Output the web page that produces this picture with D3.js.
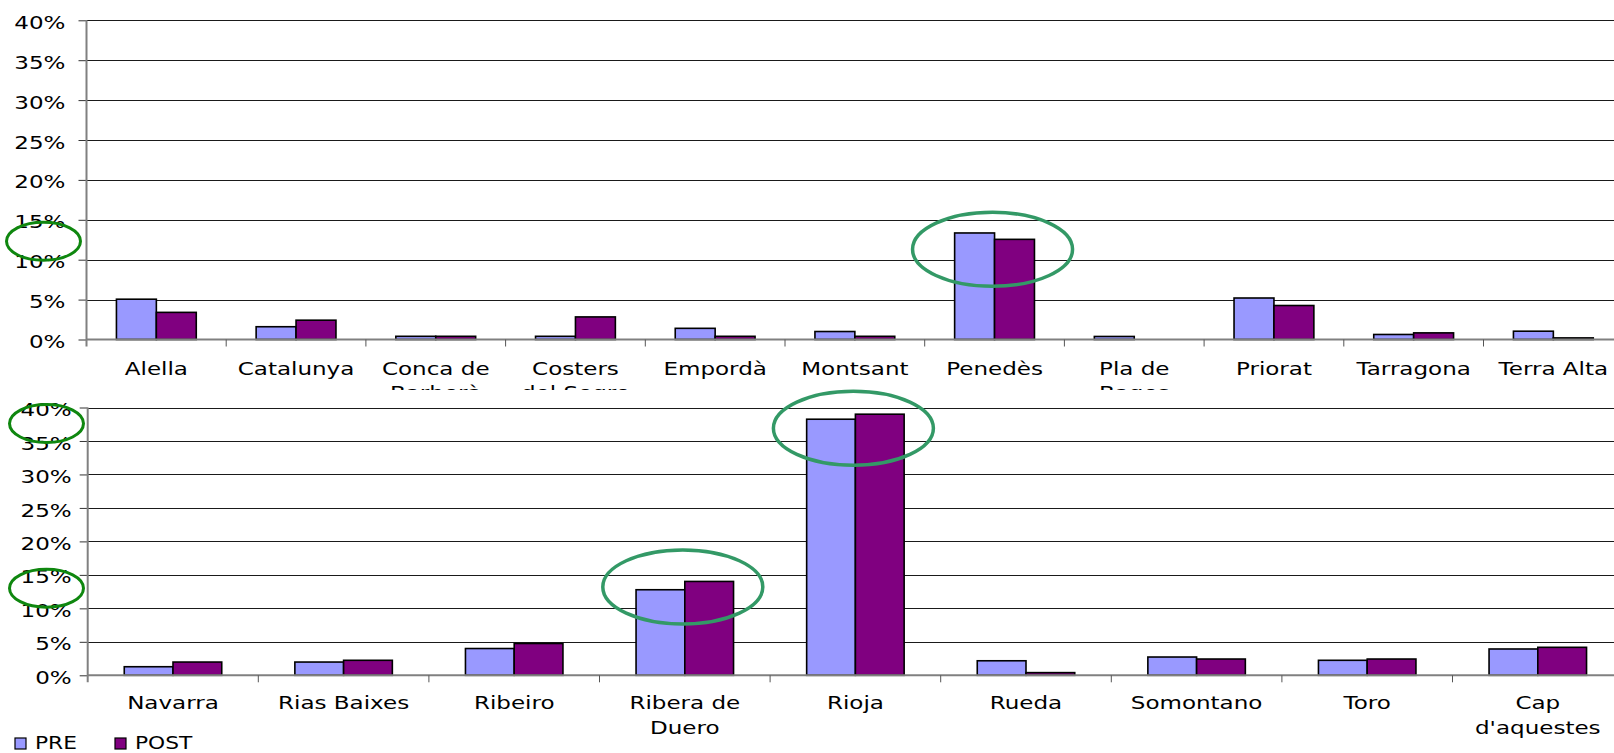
<!DOCTYPE html>
<html>
<head>
<meta charset="utf-8">
<script src="https://cdn.jsdelivr.net/npm/d3@7"></script>
<style>
  body { margin: 0; background: #fff; }
  svg { display: block; }
</style>
</head>
<body>
<script>
// Shares of wine D.O. before (PRE) and after (POST), in percent

const series = ["PRE", "POST"];

const topCats = ["Alella", "Catalunya", "Conca de\nBarberà", "Costers\ndel Segre", "Empordà",
                 "Montsant", "Penedès", "Pla de\nBages", "Priorat", "Tarragona", "Terra Alta"];
const topPre  = [5.05, 1.6, 0.4, 0.4, 1.4, 1.0, 13.35, 0.38, 5.2, 0.63, 1.04];
const topPost = [3.4, 2.42, 0.4, 2.83, 0.4, 0.4, 12.55, 0, 4.26, 0.83, 0.2];

const bottomCats = ["Navarra", "Rias Baixes", "Ribeiro", "Ribera de\nDuero", "Rioja",
                    "Rueda", "Somontano", "Toro", "Cap\nd'aquestes"];
const bottomPre  = [1.28, 1.98, 4.0, 12.78, 38.25, 2.17, 2.73, 2.24, 3.93];
const bottomPost = [1.98, 2.24, 4.75, 14.02, 39.0, 0.4, 2.43, 2.43, 4.18];

const yTicks = [0, 5, 10, 15, 20, 25, 30, 35, 40];

// hand drawn green circles (category + value at centre, and marks on the y axis)
const topCircled = ["Penedès"];
const topCircleAt = [11.3];
const topAxisMarks = [12.3];
const bottomCircled = ["Ribera de\nDuero", "Rioja"];
const bottomCircleAt = [13.2, 36.9];
const bottomAxisMarks = [37.6, 13.0];

const W = 1614, H = 753;
const FONT = "'DejaVu Sans', Verdana, sans-serif";
const STRETCH = 1.28;   // the text in the picture is widened

const svg = d3.select("body").append("svg")
    .attr("width", W)
    .attr("height", H);

svg.append("defs").append("clipPath")
    .attr("id", "clipTop")
    .append("rect")
    .attr("x", 0).attr("y", 0)
    .attr("width", W).attr("height", 390);

const topG = svg.append("g").attr("clip-path", "url(#clipTop)");
const bottomG = svg.append("g");

function drawChart(root, cats, pre, post, box) {
    const x = d3.scaleBand()
        .domain(cats)
        .range([box.left, box.right])
        .padding(0);

    // Excel style: gap of 1.5 bars between groups
    const xs = d3.scaleBand()
        .domain(series)
        .range([0, x.bandwidth()])
        .paddingInner(0)
        .paddingOuter(0.75);

    const y = d3.scaleLinear()
        .domain([0, 40])
        .range([box.bottom, box.top]);

    // gridlines
    root.append("g")
        .selectAll("line")
        .data(yTicks.filter(d => d > 0))
        .join("line")
        .attr("x1", box.left)
        .attr("x2", box.right)
        .attr("y1", d => Math.round(y(d)) + 0.5)
        .attr("y2", d => Math.round(y(d)) + 0.5)
        .attr("stroke", "#1a1a1a")
        .attr("stroke-width", 1);

    // bars
    const rows = cats.map((c, i) => ({cat: c, PRE: pre[i], POST: post[i]}));
    root.append("g")
        .selectAll("g")
        .data(rows)
        .join("g")
        .attr("transform", d => `translate(${x(d.cat)},0)`)
        .selectAll("rect")
        .data(d => series.map(s => ({key: s, value: d[s]})).filter(d => d.value > 0))
        .join("rect")
        .attr("x", d => xs(d.key))
        .attr("y", d => y(d.value))
        .attr("width", xs.bandwidth())
        .attr("height", d => y(0) - y(d.value))
        .attr("fill", d => d.key === "PRE" ? "#9999ff" : "#800080")
        .attr("stroke", "#000")
        .attr("stroke-width", 1.6);

    // y axis
    const ya = root.append("g")
        .attr("transform", `translate(${box.left},0)`)
        .call(d3.axisLeft(y)
            .tickValues(yTicks)
            .tickSize(8)
            .tickFormat(d => d + "%"));
    ya.select(".domain").remove();
    ya.selectAll("line").attr("stroke", "#333");
    ya.selectAll("text")
        .attr("x", null)
        .attr("dy", null)
        .attr("dominant-baseline", "central")
        .attr("transform", `translate(${-box.tickGap},2) scale(${STRETCH},1)`)
        .attr("font-family", FONT)
        .attr("font-size", 18)
        .attr("fill", "#000");

    // axis lines
    root.append("line")
        .attr("x1", box.left).attr("x2", box.left)
        .attr("y1", box.top).attr("y2", box.bottom + 7)
        .attr("stroke", "#808080")
        .attr("stroke-width", 2);
    root.append("line")
        .attr("x1", box.left).attr("x2", box.right)
        .attr("y1", box.bottom).attr("y2", box.bottom)
        .attr("stroke", "#808080")
        .attr("stroke-width", 2);

    // category boundary ticks
    root.append("g")
        .selectAll("line")
        .data(d3.range(1, cats.length + 1))
        .join("line")
        .attr("x1", i => box.left + i * x.step())
        .attr("x2", i => box.left + i * x.step())
        .attr("y1", box.bottom)
        .attr("y2", box.bottom + 7)
        .attr("stroke", "#555")
        .attr("stroke-width", 1);

    // category labels (can wrap on two lines)
    root.append("g")
        .selectAll("text")
        .data(cats)
        .join("text")
        .attr("transform", d => `translate(${x(d) + x.bandwidth() / 2},${box.bottom + box.labelDy}) scale(${STRETCH},1)`)
        .attr("text-anchor", "middle")
        .attr("font-family", FONT)
        .attr("font-size", 18)
        .attr("fill", "#000")
        .selectAll("tspan")
        .data(d => d.split("\n"))
        .join("tspan")
        .attr("x", 0)
        .attr("dy", (d, i) => i === 0 ? 0 : 24.5)
        .text(d => d);

    return {x, y};
}

const topScales = drawChart(topG, topCats, topPre, topPost,
    {left: 86.5, right: 86.5 + 11 * 139.7, top: 20.3, bottom: 339.5, labelDy: 35.5, tickGap: 21});

const bottomScales = drawChart(bottomG, bottomCats, bottomPre, bottomPost,
    {left: 87.7, right: 87.7 + 9 * 170.6, top: 407.5, bottom: 675.3, labelDy: 34, tickGap: 16});

// green ellipses
function circleBars(root, sc, cats, vals) {
    root.append("g")
        .selectAll("ellipse")
        .data(cats.map((c, i) => ({cat: c, v: vals[i]})))
        .join("ellipse")
        .attr("cx", d => sc.x(d.cat) + sc.x.bandwidth() / 2 - 2)
        .attr("cy", d => sc.y(d.v))
        .attr("rx", 80)
        .attr("ry", 37)
        .attr("fill", "none")
        .attr("stroke", "#339966")
        .attr("stroke-width", 3.5);
}

function circleAxis(root, sc, vals, cx) {
    root.append("g")
        .selectAll("ellipse")
        .data(vals)
        .join("ellipse")
        .attr("cx", cx)
        .attr("cy", d => sc.y(d))
        .attr("rx", 37)
        .attr("ry", 19)
        .attr("fill", "none")
        .attr("stroke", "#0f870f")
        .attr("stroke-width", 3);
}

circleBars(topG, topScales, topCircled, topCircleAt);
circleAxis(topG, topScales, topAxisMarks, 43.5);
circleBars(bottomG, bottomScales, bottomCircled, bottomCircleAt);
circleAxis(bottomG, bottomScales, bottomAxisMarks, 46.5);

// legend
const legend = svg.append("g")
    .selectAll("g")
    .data(series)
    .join("g")
    .attr("transform", (d, i) => `translate(${15 + i * 100},738)`);

legend.append("rect")
    .attr("width", 11)
    .attr("height", 11)
    .attr("fill", d => d === "PRE" ? "#9999ff" : "#800080")
    .attr("stroke", "#000")
    .attr("stroke-width", 1.2);

legend.append("text")
    .attr("transform", `translate(20,11) scale(${STRETCH},1)`)
    .attr("font-family", FONT)
    .attr("font-size", 17)
    .attr("fill", "#000")
    .text(d => d);
</script>
</body>
</html>
